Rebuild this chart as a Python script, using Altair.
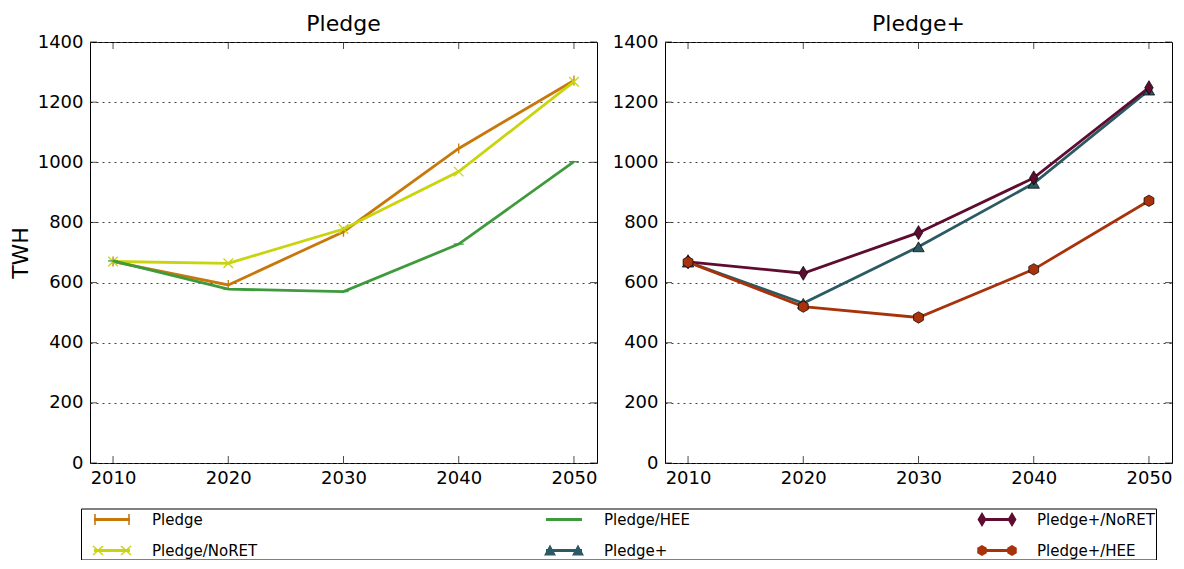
import altair as alt
import pandas as pd

# ---------------- data ----------------
years = [2010, 2020, 2030, 2040, 2050]

pledge            = [670, 592, 769, 1046, 1272]
pledge_noret      = [670, 664, 778, 969, 1268]
pledge_hee        = [672, 578, 570, 728, 1002]
pledge_plus       = [668, 531, 719, 930, 1240]
pledge_plus_noret = [669, 631, 766, 948, 1248]
pledge_plus_hee   = [668, 520, 484, 644, 872]

series_names = ["Pledge", "Pledge/NoRET", "Pledge/HEE",
                "Pledge+", "Pledge+/NoRET", "Pledge+/HEE"]
series_values = [pledge, pledge_noret, pledge_hee,
                 pledge_plus, pledge_plus_noret, pledge_plus_hee]
panels = ["Pledge", "Pledge", "Pledge", "Pledge+", "Pledge+", "Pledge+"]
colors = ["#C8780A", "#C9D40C", "#3E9A3C", "#2B5A64", "#5E0C2F", "#A8320A"]

y_ticks = [0, 200, 400, 600, 800, 1000, 1200, 1400]

rows = []
for name, vals, panel in zip(series_names, series_values, panels):
    for yr, v in zip(years, vals):
        rows.append({"series": name, "panel": panel, "year": yr, "TWH": v})
df = pd.DataFrame(rows)
xt_df = pd.DataFrame({"year": years})
yt_df = pd.DataFrame({"TWH": y_ticks})

FONT = "DejaVu Sans"
W, H = 507, 421
TICK = 7

# ---------------- marker styles ----------------
HEX = "M0,-1L0.866,-0.5L0.866,0.5L0,1L-0.866,0.5L-0.866,-0.5Z"
DIAM = "M0,-1L0.6,0L0,1L-0.6,0Z"
marker_style = {
    "Pledge":        dict(shape="M0,-1L0,1", filled=False, strokeWidth=1.3, size=100),
    "Pledge/NoRET":  dict(shape="M-1,-1L1,1M-1,1L1,-1", filled=False, strokeWidth=1.3, size=90),
    "Pledge/HEE":    dict(shape="M-1,0L1,0", filled=False, strokeWidth=1.3, size=100),
    "Pledge+":       dict(shape="triangle-up", filled=True, strokeWidth=0.7, size=130),
    "Pledge+/NoRET": dict(shape=DIAM, filled=True, strokeWidth=0.7, size=200),
    "Pledge+/HEE":   dict(shape=HEX, filled=True, strokeWidth=0.7, size=130),
}

# ---------------- legend symbol paths (line + two markers) ----------------
S = 10.0  # px per unit for symbolSize 400


def poly(pts):
    area = sum(x1 * y2 - x2 * y1 for (x1, y1), (x2, y2) in zip(pts, pts[1:] + pts[:1]))
    if area < 0:
        pts = pts[::-1]
    return "M" + "L".join(f"{x / S:.3f},{y / S:.3f}" for x, y in pts) + "Z"


def rect(x0, y0, x1, y1):
    return poly([(x0, y0), (x1, y0), (x1, y1), (x0, y1)])


def bar(xa, ya, xb, yb, w):
    dx, dy = xb - xa, yb - ya
    ln = (dx * dx + dy * dy) ** 0.5
    nx, ny = -dy / ln * w / 2, dx / ln * w / 2
    return poly([(xa + nx, ya + ny), (xb + nx, yb + ny), (xb - nx, yb - ny), (xa - nx, ya - ny)])


LINE = rect(-18, -1.4, 18, 1.4)
leg_paths = {}
leg_paths["Pledge"] = LINE + "".join(rect(c - 0.8, -5.5, c + 0.8, 5.5) for c in (-17, 17))
leg_paths["Pledge/NoRET"] = LINE + "".join(
    bar(c - 5, -4.5, c + 5, 4.5, 1.5) + bar(c - 5, 4.5, c + 5, -4.5, 1.5) for c in (-14, 14))
leg_paths["Pledge/HEE"] = rect(-18, -1.6, 18, 1.6)
leg_paths["Pledge+"] = LINE + "".join(
    poly([(c - 6, 5), (c + 6, 5), (c, -6)]) for c in (-14, 14))
leg_paths["Pledge+/NoRET"] = LINE + "".join(
    poly([(c, -7.5), (c + 4.5, 0), (c, 7.5), (c - 4.5, 0)]) for c in (-15, 15))
leg_paths["Pledge+/HEE"] = LINE + "".join(
    poly([(c + 5.5 * dx, 5.5 * dy) for dx, dy in
          [(0, -1), (0.866, -0.5), (0.866, 0.5), (0, 1), (-0.866, 0.5), (-0.866, -0.5)]])
    for c in (-15, 15))

# legend order (legend fills column by column)
leg_order = series_names
col_of = dict(zip(series_names, colors))

x_scale = alt.Scale(domain=[2008, 2052], nice=False, zero=False)
y_scale = alt.Scale(domain=[0, 1400], nice=False)


def panel_chart(panel, show_title, with_legend):
    base = alt.Chart(df).transform_filter(alt.datum.panel == panel)
    x_enc = alt.X("year:Q", scale=x_scale, title=None,
                  axis=alt.Axis(values=years, format="d", ticks=False, domain=False,
                                grid=False, labelPadding=6))
    y_enc = alt.Y("TWH:Q", scale=y_scale,
                  title="TWH" if show_title else None,
                  axis=alt.Axis(values=y_ticks, format="d", ticks=False, domain=False,
                                grid=True, gridDash=[2, 4], gridColor="#444",
                                gridWidth=1, labelPadding=7, titlePadding=5))
    layers = []
    for name, pnl in zip(series_names, panels):
        if pnl != panel:
            continue
        c = col_of[name]
        sel = base.transform_filter(alt.datum.series == name)
        layers.append(sel.mark_line(color=c, strokeWidth=2.8).encode(x=x_enc, y=y_enc))
        st = marker_style[name]
        if st["filled"]:
            pm = sel.mark_point(shape=st["shape"], filled=True, fill=c, stroke="black",
                                strokeWidth=st["strokeWidth"], size=st["size"], opacity=1)
        else:
            pm = sel.mark_point(shape=st["shape"], filled=False, stroke=c,
                                strokeWidth=st["strokeWidth"], size=st["size"], opacity=1)
        layers.append(pm.encode(x=x_enc, y=y_enc))

    # inward ticks
    xt = alt.Chart(xt_df)
    yt = alt.Chart(yt_df)
    layers.append(xt.mark_tick(orient="vertical", color="black", thickness=1, size=TICK,
                               yOffset=-TICK / 2).encode(x=alt.X("year:Q", scale=x_scale), y=alt.value(H)))
    layers.append(xt.mark_tick(orient="vertical", color="black", thickness=1, size=TICK,
                               yOffset=TICK / 2).encode(x=alt.X("year:Q", scale=x_scale), y=alt.value(0)))
    layers.append(yt.mark_tick(orient="horizontal", color="black", thickness=1, size=TICK,
                               xOffset=TICK / 2).encode(y=alt.Y("TWH:Q", scale=y_scale), x=alt.value(0)))
    layers.append(yt.mark_tick(orient="horizontal", color="black", thickness=1, size=TICK,
                               xOffset=-TICK / 2).encode(y=alt.Y("TWH:Q", scale=y_scale), x=alt.value(W)))

    if with_legend:
        leg = alt.Chart(df).transform_filter("false").mark_point(filled=True, opacity=1).encode(
            x=alt.X("year:Q", scale=x_scale),
            y=alt.Y("TWH:Q", scale=y_scale),
            color=alt.Color("series:N",
                            scale=alt.Scale(domain=leg_order, range=[col_of[s] for s in leg_order]),
                            legend=alt.Legend(
                                title=None, columns=3, orient="none",
                                legendX=-9, legendY=466.5,
                                symbolSize=400, symbolOffset=20, symbolStrokeWidth=0,
                                labelOffset=30, columnPadding=276, rowPadding=13,
                                padding=1, strokeColor="black", fillColor="white",
                                labelFont=FONT, labelFontSize=15, labelColor="black",
                                labelLimit=300)),
            shape=alt.Shape("series:N",
                            scale=alt.Scale(domain=leg_order, range=[leg_paths[s] for s in leg_order]),
                            legend=None),
        )
        layers.append(leg)

    return alt.layer(*layers).properties(
        width=W, height=H,
        title=alt.TitleParams(panel, fontSize=22, font=FONT, fontWeight="normal",
                              color="black", offset=-3),
    )


left = panel_chart("Pledge", True, True)
right = panel_chart("Pledge+", False, False)

chart = alt.hconcat(left, right, spacing=13).properties(
    padding={"left": 0, "top": 4, "right": 0, "bottom": 0},
    background="white",
).configure_view(
    stroke="black", strokeWidth=1
).configure_axis(
    labelFont=FONT, labelFontSize=18, labelColor="black",
    titleFont=FONT, titleFontSize=22, titleColor="black", titleFontWeight="normal",
)

chart.save("out.html", embed_options={"renderer": "svg", "actions": False})
